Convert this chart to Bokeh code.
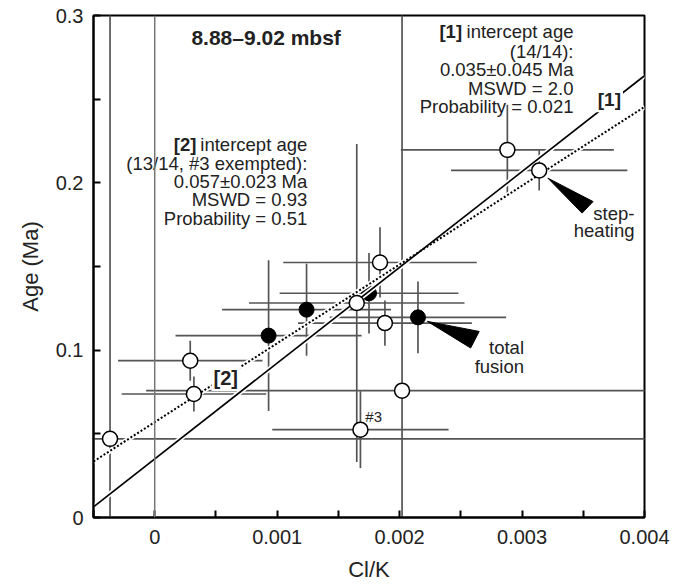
import numpy as np
from bokeh.plotting import figure
from bokeh.models import Range1d, FixedTicker, NumeralTickFormatter, Span
from bokeh.core.properties import value
from bokeh.embed import file_html
from bokeh.resources import INLINE

FONT = "Liberation Sans"

# ---- data ----
# open circles: Cl/K, age, error half-widths
x_open = [-0.000365, 0.00029, 0.00032, 0.00165, 0.00184, 0.00188, 0.00202, 0.00168, 0.00288, 0.00314]
y_open = [0.0470, 0.0937, 0.0738, 0.1282, 0.1524, 0.1162, 0.0758, 0.0525, 0.2197, 0.2074]
xerr_open = [0.006, 0.00059, 0.00059, 0.00088, 0.00079, 0.00071, 0.00209, 0.00072, 0.00087, 0.00072]
yerr_open = [0.5, 0.012, 0.0105, 0.095, 0.021, 0.0135, 0.5, 0.023, 0.027, 0.012]

# filled circles (total fusion)
x_fill = [0.00093, 0.00124, 0.00175, 0.00215]
y_fill = [0.1087, 0.1242, 0.1340, 0.1196]
xerr_fill = [0.00076, 0.00069, 0.00073, 0.00072]
yerr_fill = [0.045, 0.0275, 0.024, 0.0215]

# regression lines: intercept age, slope
fit1_intercept, fit1_slope = 0.035, 57.25
fit2_intercept, fit2_slope = 0.057, 47.1

zero_line_x = 0.0

x_ticks = [0, 0.001, 0.002, 0.003, 0.004]
x_minor = [-0.0005, 0.0005, 0.0015, 0.0025, 0.0035]
y_ticks = [0, 0.1, 0.2, 0.3]
y_minor = [0.05, 0.15, 0.25]

# annotation texts
title_text = "8.88\u20139.02 mbsf"
ann1_lines = ["(14/14):", "0.035\u00b10.045 Ma", "MSWD = 2.0", "Probability = 0.021"]
ann2_lines = ["(13/14, #3 exempted):", "0.057\u00b10.023 Ma", "MSWD = 0.93", "Probability = 0.51"]

# pointer wedges (tip, wide end a, wide end b)
wedge_step_x = [0.003211, 0.00358, 0.00349]
wedge_step_y = [0.2028, 0.1888, 0.1819]
wedge_total_x = [0.002227, 0.00265, 0.00258]
wedge_total_y = [0.1172, 0.1112, 0.1013]

XMIN, XMAX = -0.0005, 0.004

p = figure(width=686, height=584, output_backend="svg", toolbar_location=None,
           x_range=Range1d(XMIN, XMAX), y_range=Range1d(0, 0.3),
           min_border_left=93, min_border_right=42, min_border_top=15, min_border_bottom=66)
p.xgrid.visible = False
p.ygrid.visible = False
p.outline_line_color = "black"
p.outline_line_width = 2
p.background_fill_color = "white"
p.border_fill_color = "white"

p.xaxis.ticker = FixedTicker(ticks=x_ticks, minor_ticks=x_minor)
p.yaxis.ticker = FixedTicker(ticks=y_ticks, minor_ticks=y_minor)
p.xaxis.formatter = NumeralTickFormatter(format="0.[000]")
p.yaxis.formatter = NumeralTickFormatter(format="0.[0]")
p.xaxis.axis_label = "Cl/K"
p.yaxis.axis_label = "Age (Ma)"
for ax in (p.xaxis, p.yaxis):
    ax.axis_line_width = 2
    ax.axis_line_color = "black"
    ax.major_tick_in = 7
    ax.major_tick_out = 0
    ax.minor_tick_in = 7
    ax.minor_tick_out = 0
    ax.major_tick_line_width = 2
    ax.minor_tick_line_width = 2
    ax.major_label_text_font = FONT
    ax.major_label_text_font_size = "20px"
    ax.major_label_text_color = "#222222"
    ax.axis_label_text_font = FONT
    ax.axis_label_text_font_size = "22px"
    ax.axis_label_text_font_style = "normal"
    ax.axis_label_text_color = "#222222"
p.xaxis.major_label_standoff = 12
p.yaxis.major_label_standoff = 10
p.xaxis.axis_label_standoff = 10
p.yaxis.axis_label_standoff = 10

BAR = "#555555"
# zero reference line
p.add_layout(Span(location=zero_line_x, dimension="height", line_color="#777777", line_width=1.5))

# error bars
xo, yo = np.array(x_open), np.array(y_open)
xf, yf = np.array(x_fill), np.array(y_fill)
for xs, ys, xe, ye in ((xo, yo, np.array(xerr_open), np.array(yerr_open)),
                       (xf, yf, np.array(xerr_fill), np.array(yerr_fill))):
    p.segment(x0=xs - xe, y0=ys, x1=xs + xe, y1=ys, line_color=BAR, line_width=1.7)
    p.segment(x0=xs, y0=ys - ye, x1=xs, y1=ys + ye, line_color=BAR, line_width=1.7)

# filled points
p.scatter(x_fill, y_fill, size=15, marker="circle", fill_color="black", line_color="black")

# regression lines (with white halo)
lx = np.array([XMIN, XMAX])
l1 = fit1_intercept + fit1_slope * lx
l2 = fit2_intercept + fit2_slope * lx
p.line(lx, l1, line_color="white", line_width=5)
p.line(lx, l2, line_color="white", line_width=5)
p.line(lx, l1, line_color="black", line_width=1.7)
p.line(lx, l2, line_color="black", line_width=2, line_dash="2 2")

# open points
p.scatter(x_open, y_open, size=15, marker="circle", fill_color="white", line_color="black", line_width=1.5)

# pointer wedges
p.patch(wedge_step_x, wedge_step_y, fill_color="black", line_color="black")
p.patch(wedge_total_x, wedge_total_y, fill_color="black", line_color="black")

TXT = "#222222"
f = value(FONT)
# title
p.text([0.00091], [0.2866], text=[title_text], text_font=f, text_font_size="21px",
       text_font_style="bold", text_align="center", text_baseline="middle", text_color=TXT)

# annotation [1]
a1x = 0.00342
a1y = [0.2904, 0.2784, 0.2675, 0.2565, 0.2456]
p.text([a1x], [a1y[0]], text=["intercept age"], text_font=f, text_font_size="18.5px",
       text_align="right", text_baseline="middle", text_color=TXT)
p.text([0.00251], [a1y[0]], text=["[1]"], text_font=f, text_font_size="18.5px", text_font_style="bold",
       text_align="right", text_baseline="middle", text_color=TXT)
p.text([a1x] * 4, a1y[1:], text=ann1_lines, text_font=f, text_font_size="18.5px",
       text_align="right", text_baseline="middle", text_color=TXT)

# annotation [2]
a2x = 0.001246
a2y = [0.2227, 0.2118, 0.2008, 0.1899, 0.1789]
p.text([a2x], [a2y[0]], text=["intercept age"], text_font=f, text_font_size="18.5px",
       text_align="right", text_baseline="middle", text_color=TXT)
p.text([0.00034], [a2y[0]], text=["[2]"], text_font=f, text_font_size="18.5px", text_font_style="bold",
       text_align="right", text_baseline="middle", text_color=TXT)
p.text([a2x] * 4, a2y[1:], text=ann2_lines, text_font=f, text_font_size="18.5px",
       text_align="right", text_baseline="middle", text_color=TXT)

# line labels
p.text([0.003713], [0.2496], text=["[1]"], text_font=f, text_font_size="19px", text_font_style="bold",
       text_align="center", text_baseline="middle", text_color=TXT,
       background_fill_color="white", padding=2)
p.text([0.00058], [0.0834], text=["[2]"], text_font=f, text_font_size="20px", text_font_style="bold",
       text_align="center", text_baseline="middle", text_color=TXT,
       background_fill_color="white", padding=2)

# pointer labels
p.text([0.003918, 0.003918], [0.1819, 0.1713], text=["step-", "heating"], text_font=f,
       text_font_size="18.5px", text_align="right", text_baseline="middle", text_color=TXT)
p.text([0.003016, 0.003016], [0.1013, 0.0903], text=["total", "fusion"], text_font=f,
       text_font_size="18.5px", text_align="right", text_baseline="middle", text_color=TXT)
p.text([0.00172], [0.0605], text=["#3"], text_font=f, text_font_size="15px",
       text_align="left", text_baseline="middle", text_color=TXT)

open("out.html", "w").write(file_html(p, INLINE))
